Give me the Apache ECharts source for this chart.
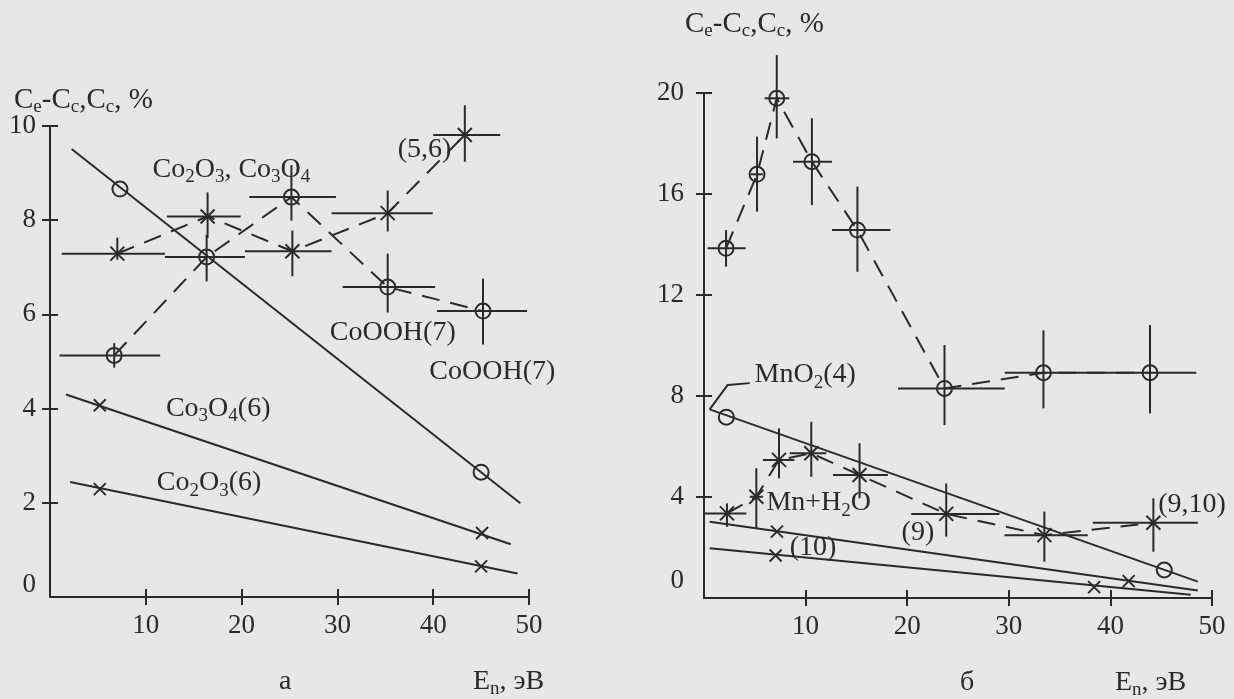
<!DOCTYPE html>
<html><head><meta charset="utf-8">
<script src="https://cdn.jsdelivr.net/npm/echarts@6/dist/echarts.min.js"></script>
<style>html,body{margin:0;padding:0;background:#e7e7e7}#c{width:1234px;height:699px}</style>
</head><body><div id="c"></div>
<script>
// ---------- Panel а ----------
const aTickX = [10, 20, 30, 40, 50];
const aTickY = [2, 4, 6, 8, 10];
const aLabelY = [0, 2, 4, 6, 8, 10];
// dashed series with circles
const aCircX = [6.7, 16.35, 25.2, 35.25, 45.2];
const aCircY = [5.13, 7.22, 8.49, 6.58, 6.07];
const aCircXLo = [1.0, 12.0, 20.8, 30.55, 40.4];
const aCircXHi = [11.5, 20.35, 29.85, 40.2, 49.8];
const aCircYLo = [4.87, 6.70, 7.99, 6.04, 5.36];
const aCircYHi = [5.39, 7.69, 9.17, 7.29, 6.76];
// dashed series with stars
const aStarX = [7.03, 16.45, 25.3, 35.25, 43.3];
const aStarY = [7.29, 8.08, 7.34, 8.15, 9.81];
const aStarXLo = [1.22, 12.2, 20.35, 29.4, 40.0];
const aStarXHi = [12.0, 19.9, 29.4, 39.95, 47.0];
const aStarYLo = [7.16, 7.62, 6.81, 7.76, 9.24];
const aStarYHi = [7.63, 8.59, 7.78, 8.63, 10.44];
// solid lines
const aCoOOHLineX = [2.26, 49.1];
const aCoOOHLineY = [9.51, 1.99];
const aCoOOHPtX = [7.3, 45.0];
const aCoOOHPtY = [8.66, 2.65];
const aCo3O4LineX = [1.67, 48.1];
const aCo3O4LineY = [4.3, 1.12];
const aCo3O4PtX = [5.2, 45.1];
const aCo3O4PtY = [4.07, 1.36];
const aCo2O3LineX = [2.1, 48.8];
const aCo2O3LineY = [2.44, 0.5];
const aCo2O3PtX = [5.2, 45.0];
const aCo2O3PtY = [2.29, 0.65];
// annotations
const aNoteText = ['Co{s|2}O{s|3}, Co{s|3}O{s|4}', '(5,6)', 'CoOOH(7)', 'CoOOH(7)', 'Co{s|3}O{s|4}(6)', 'Co{s|2}O{s|3}(6)'];
const aNoteX = [10.7, 36.3, 29.2, 39.6, 12.1, 11.15];
const aNoteY = [9.07, 9.49, 5.62, 4.79, 4.0, 2.42];

// ---------- Panel б ----------
const bTickX = [10, 20, 30, 40, 50];
const bTickY = [4, 8, 12, 16, 20];
const bLabelY = [0, 4, 8, 12, 16, 20];
const bCircX = [2.17, 5.22, 7.16, 10.62, 15.1, 23.67, 33.41, 43.9];
const bCircY = [13.85, 16.78, 19.79, 17.28, 14.57, 8.30, 8.92, 8.92];
const bCircXLo = [0.36, 4.6, 5.96, 8.76, 12.6, 19.1, 29.6, 37.6];
const bCircXHi = [4.1, 5.8, 8.39, 12.6, 18.35, 29.6, 37.6, 48.45];
const bCircYLo = [13.12, 15.3, 18.2, 15.56, 12.92, 6.85, 7.51, 7.31];
const bCircYHi = [14.57, 18.27, 21.5, 19.0, 16.29, 10.02, 10.6, 10.81];
const bStarX = [2.26, 5.15, 7.38, 10.56, 15.31, 23.84, 33.5, 44.23];
const bStarY = [3.35, 4.01, 5.47, 5.73, 4.87, 3.33, 2.49, 2.98];
const bStarXLo = [0.07, 4.5, 5.8, 8.43, 12.69, 20.4, 29.57, 38.26];
const bStarXHi = [4.17, 5.8, 8.9, 12.04, 18.1, 29.08, 37.77, 48.6];
const bStarYLo = [2.82, 2.76, 4.74, 4.8, 3.95, 2.43, 1.44, 1.83];
const bStarYHi = [3.75, 5.14, 6.72, 6.98, 6.13, 4.54, 3.42, 3.95];
const bMnO2LineX = [0.56, 48.6];
const bMnO2LineY = [7.47, 0.65];
const bMnO2PtX = [2.2, 45.3];
const bMnO2PtY = [7.16, 1.11];
const b9LineX = [0.56, 48.6];
const b9LineY = [3.02, 0.3];
const b9PtX = [7.18, 41.8];
const b9PtY = [2.63, 0.67];
const b10LineX = [0.56, 47.9];
const b10LineY = [1.97, 0.13];
const b10PtX = [7.05, 38.4];
const b10PtY = [1.68, 0.43];
const bLeaderX = [0.56, 2.33, 4.5];
const bLeaderY = [7.47, 8.44, 8.51];
const bNoteText = ['MnO{s|2}(4)', 'Mn+H{s|2}O', '(9)', '(10)', '(9,10)'];
const bNoteX = [4.98, 6.14, 19.45, 8.43, 44.7];
const bNoteY = [8.83, 3.76, 2.57, 1.98, 3.7];

// ---------- styling ----------
const INK = '#2a2a2a';
const FONT = 'Liberation Serif';
const FS = 27;
const NOTE_FS = 28;
const TITLE_FS = 29;
const SUB = {fontSize: 19, fontFamily: FONT, fill: INK, verticalAlign: 'bottom', lineHeight: 20};

function pairs(xs, ys) { return xs.map((x, i) => [x, ys[i]]); }
function errRows(xs, ys, xl, xh, yl, yh) { return xs.map((x, i) => [x, ys[i], xl[i], xh[i], yl[i], yh[i]]); }

function markRender(kind, hasErr) {
  return function (params, api) {
    const x = api.value(0), y = api.value(1);
    const c = api.coord([x, y]);
    const st = {stroke: INK, lineWidth: 2, fill: null};
    const ch = [];
    if (hasErr) {
      const l = api.coord([api.value(2), y]), r = api.coord([api.value(3), y]);
      const b = api.coord([x, api.value(4)]), t = api.coord([x, api.value(5)]);
      ch.push({type: 'line', shape: {x1: l[0], y1: l[1], x2: r[0], y2: r[1]}, style: st});
      ch.push({type: 'line', shape: {x1: b[0], y1: b[1], x2: t[0], y2: t[1]}, style: st});
    }
    if (kind === 'circle') {
      ch.push({type: 'circle', shape: {cx: c[0], cy: c[1], r: 7.5}, style: {stroke: INK, lineWidth: 2, fill: 'rgba(0,0,0,0)'}});
    } else {
      const d = kind === 'star' ? 7 : 6;
      ch.push({type: 'line', shape: {x1: c[0] - d, y1: c[1] - d, x2: c[0] + d, y2: c[1] + d}, style: st});
      ch.push({type: 'line', shape: {x1: c[0] - d, y1: c[1] + d, x2: c[0] + d, y2: c[1] - d}, style: st});
    }
    return {type: 'group', children: ch};
  };
}
function noteRender(texts) {
  return function (params, api) {
    const c = api.coord([api.value(0), api.value(1)]);
    return {type: 'text', x: c[0], y: c[1], style: {
      text: texts[params.dataIndex], fontSize: NOTE_FS, fontFamily: FONT, fill: INK,
      align: 'left', verticalAlign: 'middle', lineHeight: 34, rich: {s: SUB}
    }};
  };
}
function marks(gi, kind, data, hasErr) {
  return {type: 'custom', xAxisIndex: gi * 2, yAxisIndex: gi * 2, clip: false, silent: true,
    renderItem: markRender(kind, hasErr), data: data, encode: {x: 0, y: 1}, z: 5};
}
function line(gi, data, dashed) {
  return {type: 'line', xAxisIndex: gi * 2, yAxisIndex: gi * 2, data: data, showSymbol: false, symbol: 'none',
    silent: true, clip: false, lineStyle: {color: INK, width: 2, type: dashed ? [18, 11] : 'solid'}, z: 3};
}
function notes(gi, xs, ys, texts) {
  return {type: 'custom', xAxisIndex: gi * 2, yAxisIndex: gi * 2, clip: false, silent: true,
    renderItem: noteRender(texts), data: pairs(xs, ys), encode: {x: 0, y: 1}, z: 6};
}

function xAxes(gi, ticks) {
  const base = {gridIndex: gi, type: 'value', min: 0, max: 50, interval: 10, position: 'bottom', splitLine: {show: false}};
  return [
    Object.assign({}, base, {
      axisLine: {show: true, lineStyle: {color: INK, width: 2}},
      axisTick: {show: true, inside: false, length: 8, customValues: ticks, lineStyle: {color: INK, width: 2}},
      axisLabel: {show: true, customValues: ticks, margin: 15, color: INK, fontFamily: FONT, fontSize: FS}
    }),
    Object.assign({}, base, {
      axisLine: {show: false},
      axisTick: {show: true, inside: true, length: 8, customValues: ticks, lineStyle: {color: INK, width: 2}},
      axisLabel: {show: false}
    })
  ];
}
function yAxes(gi, max, interval, ticks, labels, margin, lift) {
  const base = {gridIndex: gi, type: 'value', min: 0, max: max, interval: interval, position: 'left', splitLine: {show: false}};
  return [
    Object.assign({}, base, {
      axisLine: {show: true, lineStyle: {color: INK, width: 2}},
      axisTick: {show: true, inside: false, length: 8, customValues: ticks, lineStyle: {color: INK, width: 2}},
      axisLabel: {show: true, customValues: labels, margin: margin, color: INK, fontFamily: FONT, fontSize: FS,
        formatter: v => v === 0 ? '{z|0}' : String(v),
        rich: {z: {fontFamily: FONT, fontSize: FS, color: INK, padding: [0, 0, lift, 0]}}}
    }),
    Object.assign({}, base, {
      axisLine: {show: false},
      axisTick: {show: true, inside: true, length: 8, customValues: ticks, lineStyle: {color: INK, width: 2}},
      axisLabel: {show: false}
    })
  ];
}

const titleStyle = (t, fs) => ({text: t, fontSize: fs, fontFamily: FONT, fill: INK, lineHeight: 34,
  align: 'left', verticalAlign: 'middle', rich: {s: SUB}});

const chart = echarts.init(document.getElementById('c'), null, {renderer: 'canvas'});
chart.setOption({
  backgroundColor: '#e7e7e7',
  animation: false,
  grid: [
    {left: 50, top: 126, width: 479, height: 471},
    {left: 704, top: 93, width: 508, height: 505}
  ],
  xAxis: [].concat(xAxes(0, aTickX), xAxes(1, bTickX)),
  yAxis: [].concat(yAxes(0, 10, 2, aTickY, aLabelY, 14, 24), yAxes(1, 20, 4, bTickY, bLabelY, 20, 34)),
  graphic: [
    {type: 'text', x: 14, y: 100, style: titleStyle('C{s|e}-C{s|c},C{s|c}, %', TITLE_FS)},
    {type: 'text', x: 685, y: 24, style: titleStyle('C{s|e}-C{s|c},C{s|c}, %', TITLE_FS)},
    {type: 'text', x: 279, y: 682, style: titleStyle('а', NOTE_FS)},
    {type: 'text', x: 960, y: 683, style: titleStyle('б', NOTE_FS)},
    {type: 'text', x: 473, y: 682, style: titleStyle('E{s|n}, эВ', NOTE_FS)},
    {type: 'text', x: 1115, y: 683, style: titleStyle('E{s|n}, эВ', NOTE_FS)}
  ],
  series: [
    // panel а
    line(0, pairs(aCoOOHLineX, aCoOOHLineY), false),
    line(0, pairs(aCo3O4LineX, aCo3O4LineY), false),
    line(0, pairs(aCo2O3LineX, aCo2O3LineY), false),
    line(0, pairs(aCircX, aCircY), true),
    line(0, pairs(aStarX, aStarY), true),
    marks(0, 'circle', pairs(aCoOOHPtX, aCoOOHPtY), false),
    marks(0, 'x', pairs(aCo3O4PtX, aCo3O4PtY), false),
    marks(0, 'x', pairs(aCo2O3PtX, aCo2O3PtY), false),
    marks(0, 'circle', errRows(aCircX, aCircY, aCircXLo, aCircXHi, aCircYLo, aCircYHi), true),
    marks(0, 'star', errRows(aStarX, aStarY, aStarXLo, aStarXHi, aStarYLo, aStarYHi), true),
    notes(0, aNoteX, aNoteY, aNoteText),
    // panel б
    line(1, pairs(bMnO2LineX, bMnO2LineY), false),
    line(1, pairs(b9LineX, b9LineY), false),
    line(1, pairs(b10LineX, b10LineY), false),
    line(1, pairs(bLeaderX, bLeaderY), false),
    line(1, pairs(bCircX, bCircY), true),
    line(1, pairs(bStarX, bStarY), true),
    marks(1, 'circle', pairs(bMnO2PtX, bMnO2PtY), false),
    marks(1, 'x', pairs(b9PtX, b9PtY), false),
    marks(1, 'x', pairs(b10PtX, b10PtY), false),
    marks(1, 'circle', errRows(bCircX, bCircY, bCircXLo, bCircXHi, bCircYLo, bCircYHi), true),
    marks(1, 'star', errRows(bStarX, bStarY, bStarXLo, bStarXHi, bStarYLo, bStarYHi), true),
    notes(1, bNoteX, bNoteY, bNoteText)
  ]
});
</script></body></html>
